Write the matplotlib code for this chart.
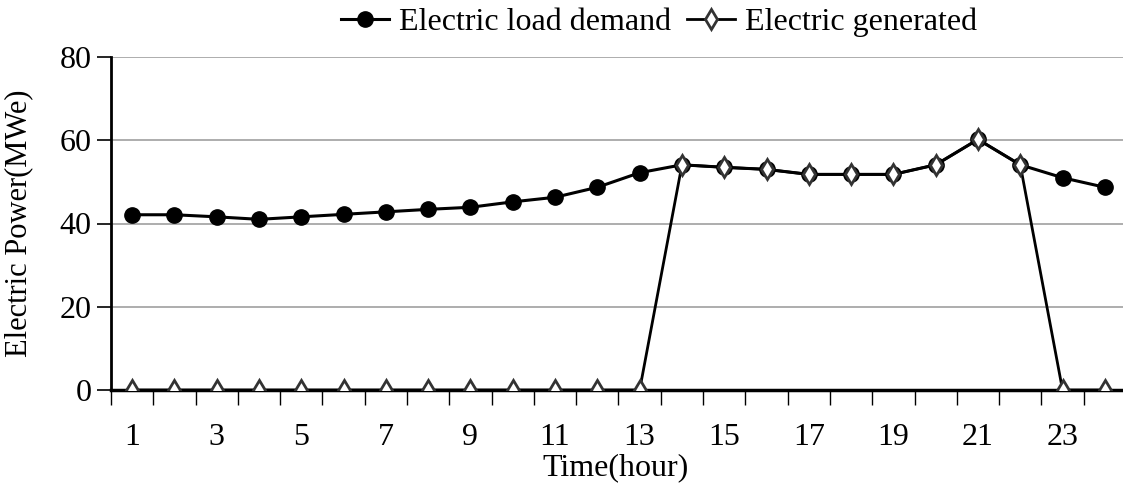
import numpy as np
import matplotlib.pyplot as plt

# Hourly electric data (MWe)
hours = list(range(1, 25))
load_demand = [42.1, 42.1, 41.6, 41.0, 41.6, 42.2, 42.8, 43.4, 43.9, 45.2, 46.3, 48.7,
               52.2, 54.1, 53.5, 53.0, 51.8, 51.8, 51.8, 54.1, 60.2, 54.1, 51.0, 48.7]
generated = [0, 0, 0, 0, 0, 0, 0, 0, 0, 0, 0, 0,
             0, 54.1, 53.5, 53.0, 51.8, 51.8, 51.8, 54.1, 60.2, 54.1, 0, 0]
tick_labels = [str(h) if h % 2 == 1 else '' for h in hours]

plt.rcParams['font.family'] = ['Liberation Serif', 'DejaVu Serif']

fig = plt.figure(figsize=(11.23, 4.88), dpi=100)
ax = fig.add_axes([111 / 1123, 98 / 488, 1015 / 1123, 333 / 488])

ax.plot(hours, load_demand, color='black', lw=2.2, marker='o', ms=11,
        mfc='black', mec='black', label='Electric load demand', zorder=3)
ax.plot(hours, generated, color='black', lw=2, marker='d', ms=10,
        mfc='white', mec='#333333', mew=2, label='Electric generated', zorder=4)

ax.set_xlim(0.5, 24.5)
ax.set_ylim(0, 80)
ax.set_yticks([0, 20, 40, 60, 80])
ax.yaxis.grid(True, color='#a0a0a0', lw=1.2)
ax.set_axisbelow(True)

ax.set_xticks(hours)
ax.set_xticklabels(tick_labels)
ax.set_xticks(np.arange(0.5, 25, 1), minor=True)
ax.tick_params(axis='x', which='major', length=0, pad=24, labelsize=23)
ax.tick_params(axis='x', which='minor', length=11, width=1, direction='out')
ax.tick_params(axis='y', length=10, width=1.2, labelsize=23, pad=4)

for side in ['top', 'right']:
    ax.spines[side].set_visible(False)
ax.spines['left'].set_linewidth(2)
ax.spines['bottom'].set_linewidth(2.5)

ax.set_xlabel('Time(hour)', fontsize=23)
ax.xaxis.set_label_coords(0.497, -0.19)
ax.set_ylabel('Electric Power(MWe)', fontsize=22)
ax.yaxis.set_label_coords(-0.077, 0.5)

ax.legend(loc='center', bbox_to_anchor=(0.54, 1.105), ncol=2, frameon=False,
          fontsize=23, handlelength=1.5, handletextpad=0.3, columnspacing=0.5)

fig.savefig('out.png', dpi=100)
